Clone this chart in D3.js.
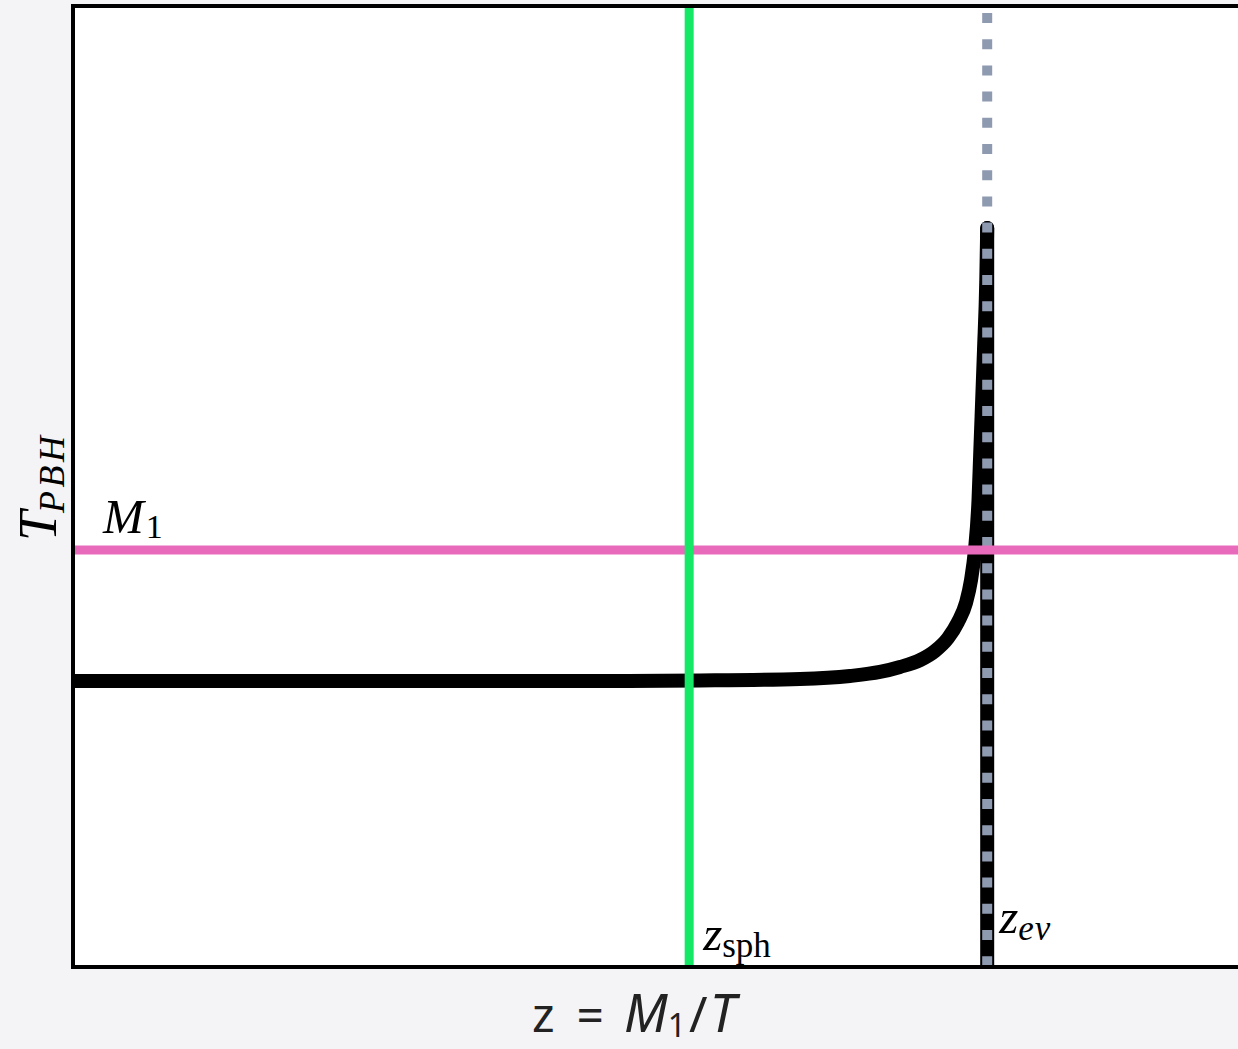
<!DOCTYPE html>
<html>
<head>
<meta charset="utf-8">
<script src="https://cdn.jsdelivr.net/npm/d3@7"></script>
<style>
  html, body { margin: 0; padding: 0; background: #f4f4f6; }
  svg { display: block; }
</style>
</head>
<body>
<svg id="chart" width="1238" height="1049"></svg>
<script>
// ---- data (z = M1/T in units of z_ev, T_PBH in arbitrary units) ----
const curveZ = [0, 0.5765, 0.6859, 0.7952, 0.8499, 0.8827, 0.9046, 0.9265, 0.9429, 0.9571, 0.9680, 0.9768, 0.9823, 0.9866, 0.9905, 0.9925, 0.9965, 0.9990, 1.0];
const curveT = [1.000, 1.000, 1.0017, 1.007, 1.0175, 1.0315, 1.049, 1.073, 1.105, 1.150, 1.206, 1.273, 1.353, 1.458, 1.633, 1.808, 2.157, 2.402, 2.584];
const zSph = 0.674;
const zEv = 1.0;
const M1 = 1.458;
const xDomain = [0, 1.275];
const yDomain = [0, 3.36];

(function () {
const svg = d3.select("#chart");
const L = 73, R = 1238.6, T0 = 6, B = 967;
const x = d3.scaleLinear().domain(xDomain).range([L, R]);
const y = d3.scaleLinear().domain(yDomain).range([B, T0]);

svg.append("rect").attr("x", L).attr("y", T0).attr("width", 1300).attr("height", B - T0)
  .attr("fill", "#ffffff");

svg.append("clipPath").attr("id", "clip").append("rect")
  .attr("x", L).attr("y", T0).attr("width", 1300).attr("height", B - T0);
const g = svg.append("g").attr("clip-path", "url(#clip)");

// vertical black drop at z_ev (end of evaporation)
g.append("line").attr("x1", x(zEv)).attr("x2", x(zEv))
  .attr("y1", y(curveT[curveT.length - 1])).attr("y2", y(0) + 10)
  .attr("stroke", "#000").attr("stroke-width", 14).attr("stroke-linecap", "round");

const pts = curveZ.map((z, i) => [z, curveT[i]]);
const line = d3.line().x(d => x(d[0])).y(d => y(d[1])).curve(d3.curveMonotoneX);
g.append("path").datum(pts).attr("d", line)
  .attr("fill", "none").attr("stroke", "#000").attr("stroke-width", 14)
  .attr("stroke-linecap", "round").attr("stroke-linejoin", "round");

g.append("line").attr("x1", x(zEv)).attr("x2", x(zEv)).attr("y1", y(yDomain[1])).attr("y2", y(0))
  .attr("stroke", "#8e9ab0").attr("stroke-width", 10)
  .attr("stroke-dasharray", "10,16.2").attr("stroke-dashoffset", -7);

g.append("line").attr("x1", x(0)).attr("x2", x(xDomain[1])).attr("y1", y(M1)).attr("y2", y(M1))
  .attr("stroke", "#e86bbb").attr("stroke-width", 9);

g.append("line").attr("x1", x(zSph)).attr("x2", x(zSph)).attr("y1", y(yDomain[1])).attr("y2", y(0))
  .attr("stroke", "#14e864").attr("stroke-width", 9);

svg.append("path")
  .attr("d", `M1300,${T0} H${L} V${B} H1300`)
  .attr("fill", "none").attr("stroke", "#000").attr("stroke-width", 4);

const serif = "'Liberation Serif', 'DejaVu Serif', serif";

const tm = svg.append("text").attr("x", x(0) + 30).attr("y", y(M1) - 17)
  .attr("font-family", serif).attr("font-size", 49).attr("fill", "#000");
tm.append("tspan").attr("font-style", "italic").text("M");
tm.append("tspan").attr("font-size", 34).attr("dx", 2).attr("dy", 5).text("1");

const ts = svg.append("text").attr("x", x(zSph) + 14).attr("y", 950)
  .attr("font-family", serif).attr("font-size", 49).attr("fill", "#000");
ts.append("tspan").attr("font-style", "italic").text("z");
ts.append("tspan").attr("font-size", 35).attr("dy", 7).text("sph");

const te = svg.append("text").attr("x", x(zEv) + 12).attr("y", 933)
  .attr("font-family", serif).attr("font-size", 49).attr("fill", "#000");
te.append("tspan").attr("font-style", "italic").text("z");
te.append("tspan").attr("font-size", 35).attr("font-style", "italic").attr("dy", 7)
  .attr("letter-spacing", 1).text("ev");

const ty = svg.append("text").attr("transform", "translate(56,541) rotate(-90)")
  .attr("font-family", serif).attr("font-size", 54).attr("fill", "#000");
ty.append("tspan").attr("font-style", "italic").text("T");
ty.append("tspan").attr("font-size", 36).attr("font-style", "italic").attr("dx", -2).attr("dy", 8)
  .attr("letter-spacing", 3.5).text("PBH");

const tx = svg.append("text").attr("x", 532).attr("y", 1032)
  .attr("font-family", "'Noto Sans', 'Open Sans', sans-serif").attr("font-size", 48).attr("fill", "#222");
tx.append("tspan").text("z");
tx.append("tspan").attr("dx", 22).text("=");
tx.append("tspan").attr("dx", 20).attr("font-size", 52).attr("font-style", "italic").text("M");
tx.append("tspan").attr("font-size", 32).attr("dy", 5).text("1");
tx.append("tspan").attr("dy", -5).attr("dx", 3).attr("font-size", 50).text("/");
tx.append("tspan").attr("dx", 2).attr("font-size", 52).attr("font-style", "italic").text("T");
})();
</script>
</body>
</html>
